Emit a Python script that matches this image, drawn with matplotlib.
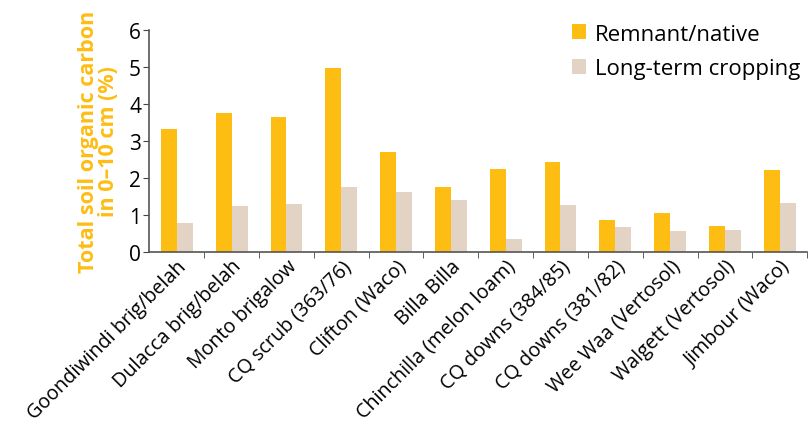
import numpy as np
import matplotlib
matplotlib.use('Agg')
import matplotlib.pyplot as plt

# site names and total soil organic carbon (%) in 0-10 cm
sites = ['Goondiwindi brig/belah', 'Dulacca brig/belah', 'Monto brigalow',
         'CQ scrub (363/76)', 'Clifton (Waco)', 'Billa Billa',
         'Chinchilla (melon loam)', 'CQ downs (384/85)', 'CQ downs (381/82)',
         'Wee Waa (Vertosol)', 'Walgett (Vertosol)', 'Jimbour (Waco)']
remnant = [3.32, 3.75, 3.65, 4.97, 2.70, 1.75, 2.24, 2.43, 0.86, 1.05, 0.70, 2.21]
cropping = [0.78, 1.24, 1.29, 1.75, 1.62, 1.40, 0.34, 1.26, 0.67, 0.56, 0.59, 1.32]

yellow = '#FDBD13'
beige = '#E2D3C5'

plt.rcParams['font.family'] = ['Open Sans', 'DejaVu Sans']

fig = plt.figure(figsize=(8.12, 4.27), dpi=100)
ax = fig.add_axes([0.184, 0.408, 0.81, 0.519])

x = np.arange(len(sites))
w = 0.29
ax.bar(x - w / 2, remnant, w, color=yellow, label='Remnant/native')
ax.bar(x + w / 2, cropping, w, color=beige, label='Long-term cropping')

ax.set_xlim(-0.5, len(sites) - 0.5)
ax.set_ylim(0, 6)
ax.set_yticks(range(7))
ax.tick_params(axis='y', labelsize=15, length=4, color='#444444', pad=2)

# category labels at centres, ticks at group boundaries
ax.set_xticks(x)
ax.set_xticklabels(sites, rotation=45, ha='right', rotation_mode='anchor', fontsize=14.2)
ax.tick_params(axis='x', which='major', length=0, pad=3)
ax.set_xticks(np.arange(len(sites)) + 0.5, minor=True)
ax.tick_params(axis='x', which='minor', length=4, color='#444444')

for s in ['top', 'right']:
    ax.spines[s].set_visible(False)
for s in ['left', 'bottom']:
    ax.spines[s].set_color('#555555')
    ax.spines[s].set_linewidth(1.2)

ax.set_ylabel('Total soil organic carbon\nin 0\u201310 cm (%)', color=yellow,
              fontsize=15.5, fontweight='bold', linespacing=0.95, labelpad=7,
              multialignment='center')

ax.legend(loc='upper right', bbox_to_anchor=(1.02, 1.12), frameon=False, fontsize=16,
          handlelength=0.65, handleheight=0.65, handletextpad=0.4, labelspacing=0.6)

fig.savefig('out.png', dpi=100)
